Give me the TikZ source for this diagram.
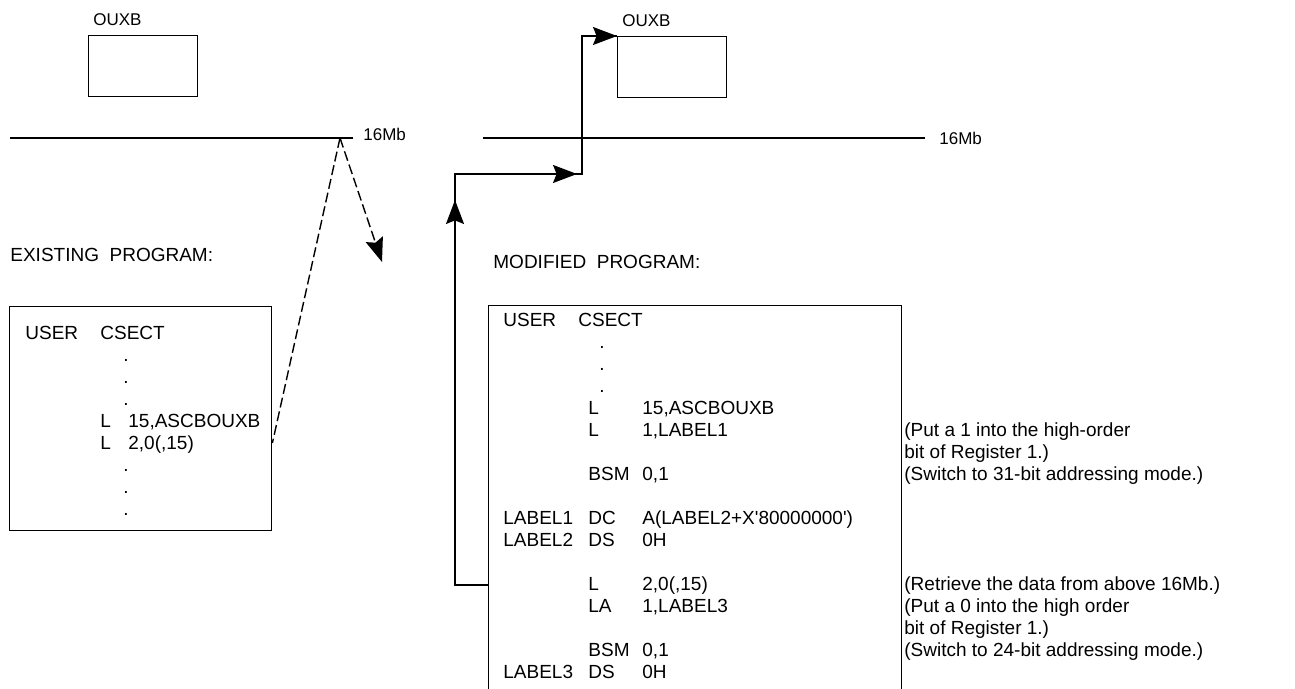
\documentclass[tikz,border=0pt]{standalone}
\usepackage{fontspec}
\setmainfont{Liberation Sans}
\usetikzlibrary{positioning, arrows.meta, calc}
\newcommand{\codefont}{\fontsize{9.5}{11}\selectfont}
\newcommand{\tagfont}{\fontsize{8.5}{10}\selectfont}
\newcommand{\shifted}[2]{\hspace*{#1}\makebox[0pt][l]{#2}}
\tikzset{
  area/.style={rectangle, draw, line width=0.7pt, inner sep=0pt, anchor=north west,
               minimum width=54.5pt, minimum height=30.5pt},
  frame/.style={rectangle, draw, line width=0.7pt, inner sep=0pt, anchor=north west},
  tag/.style={font=\tagfont, inner sep=0pt},
  head/.style={font=\codefont, inner sep=0pt, anchor=base west},
  code/.style={font=\codefont, inner sep=0pt, anchor=base west},
  wire/.style={line width=0.7pt},
  dashedwire/.style={line width=0.7pt, dash pattern=on 5pt off 2pt},
  arr/.style={-{Stealth[length=12pt, width=9pt, inset=1.8pt]}, line width=0.7pt},
}
\begin{document}
\begin{tikzpicture}[x=0.5pt, y=-0.5pt]
  \path[use as bounding box, clip] (0,0) rectangle (1295,689);
  % existing program (left half)
  \node[area] (oldarea) at (88,35) {};
  \node[tag, anchor=base west] (oldlbl) at ([xshift=2.5pt, yshift=4.5pt]oldarea.north west) {OUXB};
  \coordinate (oldline) at (10,138);
  \coordinate (oldend) at (353,138);
  \draw[wire] (oldline) -- (oldend);
  \node[tag, right=5pt of oldend, yshift=2pt] (oldmb) {16Mb};
  \node[head] (oldhead) at (10,262) {EXISTING\ \ PROGRAM:};
  \node[frame, minimum width=131pt, minimum height=112pt] (oldbox) at (9,306) {};
  \node[code] (oldcode) at (25,340) {%
    \begin{tabular}[t]{@{}p{37.5pt}@{}p{14pt}@{}l@{}}
      USER & \multicolumn{2}{@{}l@{}}{CSECT} \\
      & \shifted{11.5pt}{.} & \\
      & \shifted{11.5pt}{.} & \\
      & \shifted{11.5pt}{.} & \\
      & L & 15,ASCBOUXB \\
      & L & 2,0(,15) \\
      & \shifted{11.5pt}{.} & \\
      & \shifted{11.5pt}{.} & \\
      & \shifted{11.5pt}{.} & \\
    \end{tabular}};
  \coordinate (apex) at (340,138);
  \coordinate (oldhit) at (oldbox.east |- 0,443);
  \coordinate (drop) at (382,262);
  \draw[dashedwire] (apex) -- (oldhit);
  \draw[dashedwire, arr] (apex) -- (drop);

  % modified program (right half)
  \node[area] (newarea) at (617,36) {};
  \node[tag, anchor=base west] (newlbl) at ([xshift=2.5pt, yshift=4.5pt]newarea.north west) {OUXB};
  \coordinate (newline) at (483,138);
  \coordinate (newend) at (925,138);
  \draw[wire] (newline) -- (newend);
  \node[tag, right=7pt of newend] (newmb) {16Mb};
  \node[head] (newhead) at (493,269) {MODIFIED\ \ PROGRAM:};
  \node[frame, minimum width=206.5pt, minimum height=207.5pt] (newbox) at (488,305) {};
  \node[code] (newcode) at (503,327) {%
    \begin{tabular}[t]{@{}p{42.5pt}@{}p{27pt}@{}p{131pt}@{}l@{}}
      USER & \multicolumn{3}{@{}l@{}}{\hspace*{-5pt}CSECT} \\
      & \shifted{5.5pt}{.} & & \\
      & \shifted{5.5pt}{.} & & \\
      & \shifted{5.5pt}{.} & & \\
      & L & 15,ASCBOUXB & \\
      & L & 1,LABEL1 & (Put a 1 into the high-order \\
      & & & bit of Register 1.) \\
      & BSM & 0,1 & (Switch to 31-bit addressing mode.) \\
      \\
      LABEL1 & DC & A(LABEL2+X\textquotesingle 80000000\textquotesingle) & \\
      LABEL2 & DS & 0H & \\
      \\
      & L & 2,0(,15) & (Retrieve the data from above 16Mb.) \\
      & LA & 1,LABEL3 & (Put a 0 into the high order \\
      & & & bit of Register 1.) \\
      & BSM & 0,1 & (Switch to 24-bit addressing mode.) \\
      LABEL3 & DS & 0H & \\
    \end{tabular}};
  % branch up to the area above 16Mb
  \coordinate (bsmout) at (newbox.west |- 0,585);
  \coordinate (upleg) at (455,174);
  \coordinate (riser) at ($(newarea.north west)+(-35,0)$);
  \coordinate (elbow) at (riser |- upleg);
  \draw[wire] (bsmout) -| (upleg) -| (riser) -- (newarea.north west);
  \draw[arr] (upleg |- bsmout) -- ([yshift=-13pt]upleg);
  \draw[arr] (upleg) -- ([xshift=-2.5pt]elbow);
  \draw[arr] (riser) -- (newarea.north west);
\end{tikzpicture}
\end{document}
